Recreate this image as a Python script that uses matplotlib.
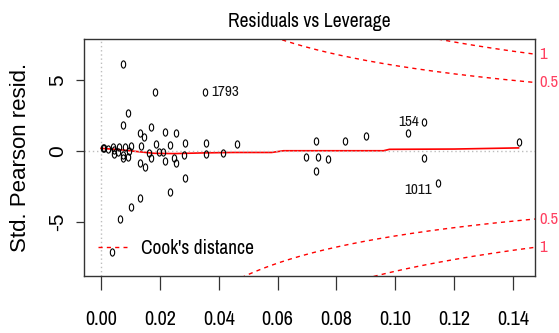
import numpy as np
import matplotlib
matplotlib.use("Agg")
import matplotlib.pyplot as plt
from matplotlib.path import Path
from matplotlib.transforms import Affine2D
from matplotlib.lines import Line2D

plt.rcParams['axes.unicode_minus'] = False

NARROW = ['Archivo Narrow', 'Liberation Sans', 'DejaVu Sans']
REGULAR = ['Liberation Sans', 'DejaVu Sans']

# leverage (hat values) and standardized Pearson residuals
leverage = [0.0073, 0.0184, 0.0354, 0.0090, 0.0073, 0.0170, 0.0133, 0.0147, 0.0218, 0.0254,
            0.0285, 0.0357, 0.0463, 0.0185, 0.0235, 0.0135, 0.0102, 0.0005, 0.0039, 0.0062,
            0.0081, 0.0164, 0.0198, 0.0210, 0.0281, 0.0357, 0.0414, 0.0073, 0.0090, 0.0249,
            0.0253, 0.0218, 0.0170, 0.0133, 0.0150, 0.0285, 0.0235, 0.0133, 0.0103, 0.0063,
            0.0036, 0.0011, 0.0025, 0.0045, 0.0045, 0.0059, 0.0073, 0.0096, 0.0696, 0.0732,
            0.0736, 0.0732, 0.0770, 0.0830, 0.0902, 0.1044, 0.1098, 0.1145, 0.1098, 0.1419]
std_resid = [6.10, 4.15, 4.15, 2.68, 1.81, 1.69, 1.22, 0.94, 1.34, 1.22,
             0.52, 0.52, 0.47, 0.45, 0.40, 0.33, 0.33, 0.17, 0.24, 0.24,
             0.24, -0.18, -0.07, -0.07, -0.30, -0.26, -0.19, -0.54, -0.42, -0.49,
             -0.84, -0.73, -0.54, -0.89, -1.13, -1.94, -2.89, -3.35, -3.94, -4.81,
             -7.11, 0.17, 0.15, 0.05, -0.25, -0.09, -0.30, -0.02, -0.42, 0.70,
             -0.42, -1.45, -0.61, 0.70, 1.04, 1.22, 2.04, -2.25, -0.54, 0.64]

# flagged observations (index into the arrays above) and their ids
flag_idx = [2, 56, 57]
flag_ids = ['1793', '154', '1011']

# lowess smoother through the points
smooth_x = [0.0, 0.006, 0.012, 0.018, 0.025, 0.035, 0.045, 0.058, 0.062, 0.096, 0.098, 0.12, 0.1419]
smooth_y = [0.17, 0.08, -0.05, -0.18, -0.20, -0.15, -0.12, -0.12, 0.0, 0.0, 0.10, 0.12, 0.20]

# Cook's distance contour levels, number of model parameters
cook_levels = [0.5, 1]
n_params = 8

xlim = (-0.0058, 0.1475)
ylim = (-8.82, 7.87)
xticks = [0.00, 0.02, 0.04, 0.06, 0.08, 0.10, 0.12, 0.14]
yticks = [-5, 0, 5]

fig = plt.figure(figsize=(5.59, 3.33), dpi=100)
ax = fig.add_axes([0.1503, 0.1712, 0.8068, 0.7117])
ax.set_xlim(*xlim)
ax.set_ylim(*ylim)

# smoother goes under the dotted zero lines
ax.plot(smooth_x, smooth_y, color='red', lw=1.2, zorder=1)
ax.axhline(0, color='#bdbdbd', lw=1, ls=(0, (1, 2)), zorder=2)
ax.axvline(0, color='#bdbdbd', lw=1, ls=(0, (1, 2)), zorder=2)

# open circles, squeezed sideways
oval = Path.unit_circle().transformed(Affine2D().scale(0.6, 1.0))
ax.plot(leverage, std_resid, ls='none', marker=oval, ms=5.2, mfc='none',
        mec='black', mew=0.8, zorder=3)

# Cook's distance contours
hh = np.linspace(0.001, xlim[1], 300)
for lev in cook_levels:
    cl = np.sqrt(lev * n_params * (1 - hh) / hh)
    ax.plot(hh, cl, color='red', lw=1, ls=(0, (3, 3)), zorder=2)
    ax.plot(hh, -cl, color='red', lw=1, ls=(0, (3, 3)), zorder=2)
    edge = np.sqrt(lev * n_params * (1 - xlim[1]) / xlim[1])
    for yy in (edge, -edge):
        ax.annotate(f'{lev:g}', xy=(1, yy), xycoords=('axes fraction', 'data'),
                    xytext=(3, 0), textcoords='offset points', ha='left', va='center',
                    color='#ff4060', fontsize=12, family=NARROW, annotation_clip=False)

# ids of the largest points
for i, lab in zip(flag_idx, flag_ids):
    x, y = leverage[i], std_resid[i]
    if x < (xlim[0] + xlim[1]) / 2:
        off, ha = (4, 0), 'left'
    else:
        off, ha = (-4, 0), 'right'
    if y < 0:
        off = (off[0], -5)
    ax.annotate(lab, xy=(x, y), xytext=off, textcoords='offset points',
                ha=ha, va='center', fontsize=11, family=NARROW, color='#111111')

ax.set_xticks(xticks)
ax.set_xticklabels([f'{t:.2f}' for t in xticks], family=NARROW, fontsize=14.5)
ax.set_yticks(yticks)
ax.set_yticklabels([str(t) for t in yticks], family=REGULAR, fontsize=15,
                   rotation=90, va='center')
ax.tick_params(axis='x', length=10, width=0.9, pad=14.5, color='#333333')
ax.tick_params(axis='y', length=6, width=0.9, pad=6, color='#333333')
for s in ax.spines.values():
    s.set_color('#333333')
    s.set_linewidth(1)

ax.set_title('Residuals vs Leverage', family=NARROW, fontsize=14, pad=8.5)
ax.set_ylabel('Std. Pearson resid.', family=REGULAR, fontsize=16, va='center')
ax.yaxis.set_label_coords(-0.14, 0.5)

handle = Line2D([], [], color='red', lw=1, ls=(0, (3, 3)))
ax.legend([handle], ["Cook's distance"], loc='center left', bbox_to_anchor=(0.03, 0.118),
          frameon=False, borderpad=0, borderaxespad=0, handlelength=1.5,
          handletextpad=0.75, prop={'family': NARROW, 'size': 14})

fig.savefig('out.png', dpi=100)
